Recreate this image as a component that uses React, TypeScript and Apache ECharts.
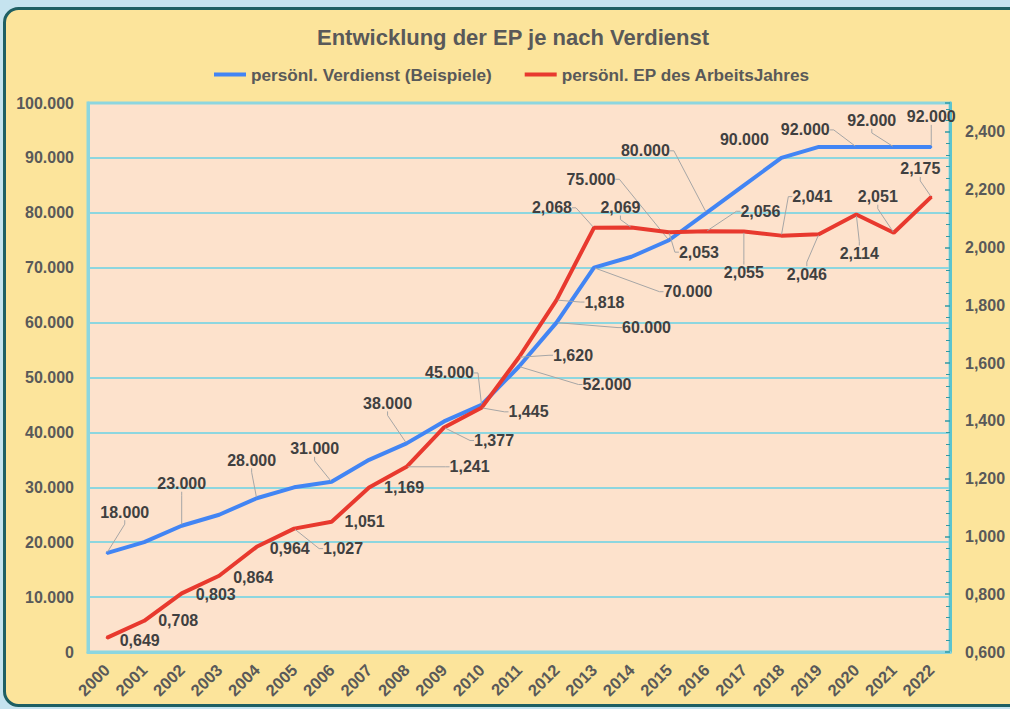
import React, { useEffect, useRef } from "react";
import * as echarts from "echarts";

const years = ["2000","2001","2002","2003","2004","2005","2006","2007","2008","2009","2010","2011","2012","2013","2014","2015","2016","2017","2018","2019","2020","2021","2022"];
const verdienst = [18000,20000,23000,25000,28000,30000,31000,35000,38000,42000,45000,52000,60000,70000,72000,75000,80000,85000,90000,92000,92000,92000,92000];
const ep = [0.649,0.708,0.803,0.864,0.964,1.027,1.051,1.169,1.241,1.377,1.445,1.620,1.818,2.068,2.069,2.053,2.056,2.055,2.041,2.046,2.114,2.051,2.175];

const seriesNames = ["persönl. Verdienst (Beispiele)", "persönl. EP des ArbeitsJahres"];
const titleText = "Entwicklung der EP je nach Verdienst";

// which labels are shown / have leader lines
const blueLabelShown = [1,0,1,0,1,0,1,0,1,0,1,1,1,1,0,1,1,0,1,0,1,1,1];
const blueLeader =     [1,0,1,0,1,0,1,0,1,0,1,1,1,1,0,1,1,0,0,0,1,1,1];
const redLeader =      [0,0,0,0,0,1,0,0,1,1,1,1,1,1,1,1,1,1,1,1,1,1,1];

// label offsets (pixels, label centre relative to point)
const blueDx = [18,0,0,0,-5,0,-17,0,-19,0,-32,88,90,94,0,-78,-61,0,-37,0,-51,-22,0];
const blueDy = [-41,0,-42,0,-38,0,-33,0,-40,0,-32,18,5,24,0,-61,-62,0,-18,0,-17,-26,-30];
const redDx = [33,34,34,34,33,49,33,35,63,50,47,54,48,-42,-11,30,54,0,31,-12,3,-16,-11];
const redDy = [3,0,1,2,2,20,0,0,0,13,4,-2,2,-20,-20,20,-20,41,-39,40,39,-36,-28];

const FONT = "'Liberation Sans', Arial, sans-serif";
const BLUE = "#4285f4";
const RED = "#e8392e";
const CYAN = "#8dd6df";
const AXIS_TXT = "#595959";
const LABEL_TXT = "#404040";

const fmtThousand = (v: number) => (v === 0 ? "0" : (v / 1000).toFixed(3));
const fmtComma = (v: number) => v.toFixed(3).replace(".", ",");

export default function App() {
  const ref = useRef<HTMLDivElement>(null);
  useEffect(() => {
    if (!ref.current) return;
    const chart = echarts.init(ref.current, null, { renderer: "svg" });
    const labelBase = {
      show: true,
      position: "inside",
      fontSize: 16,
      fontWeight: "bold",
      color: LABEL_TXT,
      fontFamily: FONT,
      textBorderWidth: 0,
      textBorderColor: "transparent",
    };
    const leaderBase = { show: true, length2: 4, lineStyle: { color: "#a6a6a6", width: 1 } };
    chart.setOption({
      animation: false,
      backgroundColor: "#c5e3ef",
      graphic: [
        {
          type: "rect",
          z: -10,
          silent: true,
          shape: { x: 4.5, y: 8.5, width: 1030, height: 697, r: 14 },
          style: { fill: "#fce49b", stroke: "#1e5f63", lineWidth: 3 },
        },
      ],
      title: {
        text: titleText,
        left: 312,
        top: 21,
        textStyle: { fontSize: 22, fontWeight: "bold", color: AXIS_TXT, fontFamily: FONT },
      },
      legend: {
        top: 61,
        left: 209,
        icon: "rect",
        itemWidth: 32,
        itemHeight: 4,
        itemGap: 33,
        data: seriesNames,
        textStyle: { fontSize: 17.2, fontWeight: "bold", color: AXIS_TXT, fontFamily: FONT },
      },
      grid: {
        left: 88,
        right: 60,
        top: 103,
        bottom: 57,
        show: true,
        backgroundColor: "#fde2cc",
        borderColor: CYAN,
        borderWidth: 3,
        containLabel: false,
        outerBoundsMode: "none",
      },
      xAxis: {
        type: "category",
        data: years,
        boundaryGap: true,
        axisLine: { show: true, lineStyle: { color: CYAN, width: 3 } },
        axisTick: { show: false },
        axisLabel: {
          interval: 0,
          rotate: 45,
          margin: 15,
          fontSize: 16.5,
          fontWeight: "bold",
          color: AXIS_TXT,
          fontFamily: FONT,
        },
      },
      yAxis: [
        {
          type: "value",
          min: 0,
          max: 100000,
          interval: 10000,
          axisLine: { show: true, lineStyle: { color: CYAN, width: 3 } },
          axisTick: { show: false },
          splitLine: { show: true, lineStyle: { color: CYAN, width: 2 } },
          axisLabel: {
            formatter: (v: number) => fmtThousand(v),
            margin: 14,
            fontSize: 16,
            fontWeight: "bold",
            color: AXIS_TXT,
            fontFamily: FONT,
          },
        },
        {
          type: "value",
          position: "right",
          min: 0.6,
          max: 2.5,
          interval: 0.2,
          axisLine: { show: true, lineStyle: { color: "#5cc4cf", width: 3 } },
          axisTick: { show: true, inside: true, length: 5, lineStyle: { color: "#2f9aa6", width: 1.5 } },
          minorTick: { show: true, splitNumber: 5, length: 4, lineStyle: { color: "#2f9aa6", width: 1 } },
          splitLine: { show: false },
          axisLabel: {
            showMaxLabel: false,
            formatter: (v: number) => fmtComma(v),
            margin: 15,
            fontSize: 16,
            fontWeight: "bold",
            color: AXIS_TXT,
            fontFamily: FONT,
          },
        },
      ],
      series: [
        {
          name: seriesNames[0],
          type: "line",
          yAxisIndex: 0,
          showSymbol: true,
          symbol: "circle",
          symbolSize: 2,
          lineStyle: { color: BLUE, width: 4 },
          itemStyle: { color: BLUE },
          data: verdienst.map((v, i) => ({
            value: v,
            label: { show: !!blueLabelShown[i] },
            labelLine: { show: !!blueLeader[i] },
          })),
          label: { ...labelBase, formatter: (p: any) => fmtThousand(p.value) },
          labelLine: leaderBase,
          labelLayout: (p: any) => ({ dx: blueDx[p.dataIndex], dy: blueDy[p.dataIndex] }),
          z: 3,
        },
        {
          name: seriesNames[1],
          type: "line",
          yAxisIndex: 1,
          showSymbol: true,
          symbol: "circle",
          symbolSize: 2,
          lineStyle: { color: RED, width: 4 },
          itemStyle: { color: RED },
          data: ep.map((v, i) => ({
            value: v,
            labelLine: { show: !!redLeader[i] },
          })),
          label: { ...labelBase, formatter: (p: any) => fmtComma(p.value) },
          labelLine: leaderBase,
          labelLayout: (p: any) => ({ dx: redDx[p.dataIndex], dy: redDy[p.dataIndex] }),
          z: 4,
        },
      ],
    });
    return () => chart.dispose();
  }, []);
  return (
    <div
      ref={ref}
      style={{ position: "absolute", left: 0, top: 0, width: 1010, height: 709 }}
    />
  );
}
